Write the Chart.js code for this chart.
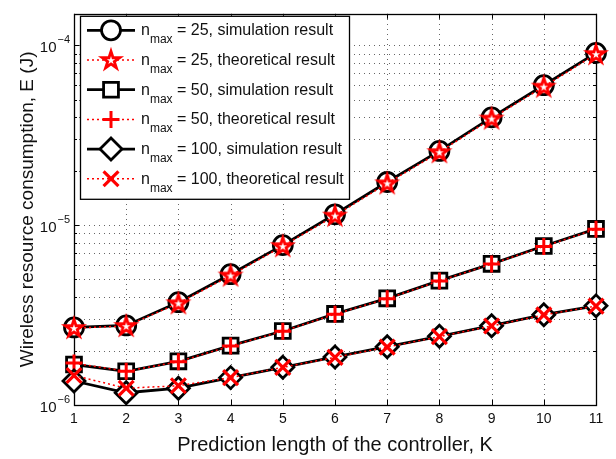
<!DOCTYPE html>
<html><head><meta charset="utf-8">
<script src="https://cdn.jsdelivr.net/npm/chart.js@4.4.0/dist/chart.umd.min.js"></script>
<style>html,body{margin:0;padding:0;background:#fff;}canvas{display:block;}</style>
</head><body>
<canvas id="c" width="616" height="459"></canvas>
<script>
// ---------- data ----------
const K = [1, 2, 3, 4, 5, 6, 7, 8, 9, 10, 11];
const sim25  = [2.70e-6, 2.77e-6, 3.73e-6, 5.34e-6, 7.75e-6, 1.15e-5, 1.74e-5, 2.59e-5, 3.98e-5, 6.01e-5, 9.09e-5];
const theo25 = [2.68e-6, 2.75e-6, 3.68e-6, 5.25e-6, 7.65e-6, 1.13e-5, 1.71e-5, 2.55e-5, 3.92e-5, 5.90e-5, 8.95e-5];
const sim50  = [1.68e-6, 1.54e-6, 1.75e-6, 2.14e-6, 2.58e-6, 3.21e-6, 3.92e-6, 4.92e-6, 6.10e-6, 7.66e-6, 9.54e-6];
const theo50 = [1.71e-6, 1.54e-6, 1.74e-6, 2.13e-6, 2.57e-6, 3.20e-6, 3.90e-6, 4.90e-6, 6.08e-6, 7.62e-6, 9.50e-6];
const sim100  = [1.36e-6, 1.17e-6, 1.24e-6, 1.42e-6, 1.62e-6, 1.85e-6, 2.11e-6, 2.41e-6, 2.76e-6, 3.18e-6, 3.56e-6];
const theo100 = [1.46e-6, 1.24e-6, 1.28e-6, 1.42e-6, 1.62e-6, 1.84e-6, 2.10e-6, 2.40e-6, 2.75e-6, 3.17e-6, 3.55e-6];
const nmaxValues = ['25', '25', '50', '50', '100', '100'];
const resultKinds = ['simulation result', 'theoretical result', 'simulation result', 'theoretical result', 'simulation result', 'theoretical result'];
const yMajorTicks = [1e-6, 1e-5, 1e-4];
const yMajorLabels = ['\u22126', '\u22125', '\u22124'];
const yMinorMultipliers = [2, 3, 4, 5, 6, 7, 8, 9];
const xTitle = 'Prediction length of the controller, K';
const yTitle = 'Wireless resource consumption, E (J)';

// ---------- styles ----------
const FONT = "'Liberation Sans', Arial, Helvetica, sans-serif";
Chart.defaults.font.family = FONT;
Chart.defaults.color = '#111';

function starPath(g, R) {
  g.beginPath();
  for (let i = 0; i < 10; i++) {
    const a = -Math.PI / 2 + i * Math.PI / 5;
    const r = (i % 2) ? R * 0.382 : R;
    g.lineTo(r * Math.cos(a), r * Math.sin(a));
  }
  g.closePath();
}
function makeStar(R, lw) {
  const s = 34;
  const c = document.createElement('canvas');
  c.width = s; c.height = s;
  const g = c.getContext('2d');
  g.translate(s / 2, s / 2 + 0.5);
  starPath(g, R);
  g.fillStyle = '#ff0000'; g.fill();
  g.lineJoin = 'miter'; g.miterLimit = 10;
  g.lineWidth = lw; g.strokeStyle = '#ff0000'; g.stroke();
  starPath(g, R * 0.42);
  g.fillStyle = '#fff'; g.fill();
  return c;
}
const starImg = makeStar(10.5, 2);

const seriesValues = [sim25, theo25, sim50, theo50, sim100, theo100];
const markerDefs = [
  {style: 'circle',   r: 9.5,  bw: 2.8, color: '#000'},
  {style: starImg,    r: 10,   bw: 2.5, color: '#ff0000'},
  {style: 'rect',     r: 10.5, bw: 2.8, color: '#000'},
  {style: 'cross',    r: 8.5,  bw: 3,   color: '#ff0000'},
  {style: 'rectRot',  r: 11,   bw: 2.8, color: '#000'},
  {style: 'crossRot', r: 10.5, bw: 3.2, color: '#ff0000'}
];

const datasets = seriesValues.map((vals, i) => {
  const sim = i % 2 === 0;
  const m = markerDefs[i];
  return {
    label: 'n_max = ' + nmaxValues[i] + ', ' + resultKinds[i],
    data: K.map((k, j) => ({x: k, y: vals[j]})),
    borderColor: sim ? '#000' : '#ff0000',
    borderWidth: sim ? 2.8 : 1.5,
    borderDash: sim ? [] : [2, 3],
    pointStyle: m.style,
    pointRadius: m.r,
    pointHoverRadius: m.r,
    pointBorderWidth: m.bw,
    pointBorderColor: m.color,
    pointBackgroundColor: '#fff',
    tension: 0,
    clip: false,
    order: 6 - i
  };
});

function drawMarker(ctx, m, x, y) {
  ctx.save();
  ctx.lineWidth = m.bw; ctx.strokeStyle = m.color; ctx.fillStyle = '#fff';
  if (typeof m.style !== 'string') {
    ctx.drawImage(m.style, x - m.style.width / 2, y - m.style.height / 2);
    ctx.restore(); return;
  }
  const r = m.r;
  ctx.beginPath();
  if (m.style === 'circle') { ctx.arc(x, y, r, 0, Math.PI * 2); ctx.fill(); ctx.stroke(); }
  else if (m.style === 'rect') { const h = r * Math.SQRT1_2; ctx.rect(x - h, y - h, 2 * h, 2 * h); ctx.fill(); ctx.stroke(); }
  else if (m.style === 'rectRot') { ctx.moveTo(x, y - r); ctx.lineTo(x + r, y); ctx.lineTo(x, y + r); ctx.lineTo(x - r, y); ctx.closePath(); ctx.fill(); ctx.stroke(); }
  else if (m.style === 'cross') { ctx.moveTo(x, y - r); ctx.lineTo(x, y + r); ctx.moveTo(x - r, y); ctx.lineTo(x + r, y); ctx.stroke(); }
  else if (m.style === 'crossRot') { const d = r * Math.SQRT1_2; ctx.moveTo(x - d, y - d); ctx.lineTo(x + d, y + d); ctx.moveTo(x + d, y - d); ctx.lineTo(x - d, y + d); ctx.stroke(); }
  ctx.restore();
}

const framePlugin = {
  id: 'frame',
  beforeDatasetsDraw(chart) {
    const {ctx, chartArea: a, scales: {x, y}} = chart;
    ctx.save();
    // dotted grid
    ctx.strokeStyle = 'rgba(0,0,0,0.6)';
    ctx.lineWidth = 1;
    ctx.setLineDash([1, 4]);
    K.forEach(k => {
      if (k === K[0] || k === K[K.length - 1]) return;
      const px = Math.round(x.getPixelForValue(k)) + 0.5;
      ctx.beginPath(); ctx.moveTo(px, a.bottom); ctx.lineTo(px, a.top); ctx.stroke();
    });
    const yVals = [];
    yMajorTicks.forEach(v => { yVals.push({v, major: true}); yMinorMultipliers.forEach(mu => yVals.push({v: v * mu, major: false})); });
    yVals.forEach(t => {
      if (t.v <= y.min || t.v >= y.max) return;
      const py = Math.round(y.getPixelForValue(t.v)) + 0.5;
      ctx.beginPath(); ctx.moveTo(a.left, py); ctx.lineTo(a.right, py); ctx.stroke();
    });
    ctx.setLineDash([]);
    // inward ticks
    ctx.strokeStyle = '#000';
    K.forEach(k => {
      const px = Math.round(x.getPixelForValue(k)) + 0.5;
      ctx.beginPath(); ctx.moveTo(px, a.bottom); ctx.lineTo(px, a.bottom - 5);
      ctx.moveTo(px, a.top); ctx.lineTo(px, a.top + 5); ctx.stroke();
    });
    yVals.forEach(t => {
      if (t.v < y.min || t.v > y.max) return;
      const py = Math.round(y.getPixelForValue(t.v)) + 0.5;
      const L = t.major ? 5 : 3;
      ctx.beginPath(); ctx.moveTo(a.left, py); ctx.lineTo(a.left + L, py);
      ctx.moveTo(a.right, py); ctx.lineTo(a.right - L, py); ctx.stroke();
    });
    // box
    ctx.lineWidth = 1.3;
    ctx.strokeRect(Math.round(a.left) + 0.5, Math.round(a.top) + 0.5, Math.round(a.right - a.left), Math.round(a.bottom - a.top));
    // y tick labels 10^n
    ctx.fillStyle = '#111';
    yMajorTicks.forEach((v, i) => {
      const py = y.getPixelForValue(v);
      ctx.font = '15px ' + FONT;
      ctx.textAlign = 'right'; ctx.textBaseline = 'alphabetic';
      ctx.fillText('10', a.left - 17.5, py + 7);
      ctx.font = '11px ' + FONT;
      ctx.textAlign = 'left';
      ctx.fillText(yMajorLabels[i], a.left - 16.5, py - 2.5);
    });
    ctx.restore();
  },
  afterDatasetsDraw(chart) {
    const {ctx, chartArea: a} = chart;
    ctx.save();
    const L = a.left + 6, T = a.top + 2, W = 269, H = 183;
    ctx.fillStyle = '#fff';
    ctx.fillRect(L, T, W, H);
    ctx.strokeStyle = '#000'; ctx.lineWidth = 1.3;
    ctx.strokeRect(L + 0.5, T + 0.5, W, H);
    for (let i = 0; i < 6; i++) {
      const cy = T + 14.5 + i * 29.7;
      const sim = i % 2 === 0;
      ctx.save();
      ctx.strokeStyle = sim ? '#000' : '#ff0000';
      ctx.lineWidth = sim ? 2.8 : 1.5;
      ctx.setLineDash(sim ? [] : [2, 3]);
      ctx.beginPath(); ctx.moveTo(L + 7, cy); ctx.lineTo(L + 55, cy); ctx.stroke();
      ctx.restore();
      drawMarker(ctx, markerDefs[i], L + 31, cy);
      ctx.fillStyle = '#111';
      ctx.textAlign = 'left'; ctx.textBaseline = 'alphabetic';
      ctx.font = '16px ' + FONT;
      let tx = L + 61;
      ctx.fillText('n', tx, cy + 5);
      tx += ctx.measureText('n').width;
      ctx.font = '12px ' + FONT;
      ctx.fillText('max', tx, cy + 13);
      tx += ctx.measureText('max').width;
      ctx.font = '16px ' + FONT;
      ctx.fillText(' = ' + nmaxValues[i] + ', ' + resultKinds[i], tx, cy + 5);
    }
    ctx.restore();
  }
};

new Chart(document.getElementById('c'), {
  type: 'line',
  data: {datasets},
  options: {
    responsive: false,
    animation: false,
    devicePixelRatio: 1,
    layout: {padding: {left: 0, right: 20, top: 2, bottom: 0}},
    plugins: {legend: {display: false}, tooltip: {enabled: false}},
    scales: {
      x: {
        type: 'linear', min: 1, max: 11,
        grid: {display: false, drawTicks: false},
        border: {display: false},
        ticks: {stepSize: 1, font: {size: 14}, padding: 6, color: '#111', maxRotation: 0},
        title: {display: true, text: xTitle, font: {size: 20}, color: '#111', padding: {top: 0, bottom: 2}},
        afterFit(s) { s.height = 54; }
      },
      y: {
        type: 'logarithmic', min: 1e-6, max: 1.5e-4,
        grid: {display: false, drawTicks: false},
        border: {display: false},
        ticks: {display: false},
        afterBuildTicks(s) {
          const t = [];
          yMajorTicks.forEach(v => { t.push({value: v}); yMinorMultipliers.forEach(mu => { if (v * mu <= 1.5e-4) t.push({value: v * mu}); }); });
          s.ticks = t;
        },
        title: {display: true, text: yTitle, font: {size: 19}, color: '#111', padding: {top: 16, bottom: 0}},
        afterFit(s) { s.width = 74; }
      }
    }
  },
  plugins: [framePlugin]
});
</script>
</body></html>
